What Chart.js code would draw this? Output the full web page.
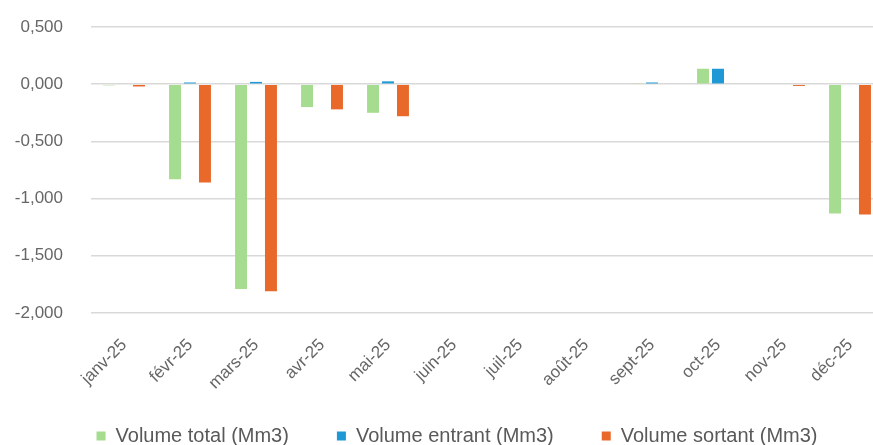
<!DOCTYPE html>
<html>
<head>
<meta charset="utf-8">
<script src="https://cdn.jsdelivr.net/npm/chart.js@4"></script>
<style>
html,body{margin:0;padding:0;overflow:hidden;background:#fff;}
#wrap{position:absolute;left:0;top:0;width:929px;height:456px;}
</style>
</head>
<body>
<div id="wrap"><canvas id="c" width="929" height="456"></canvas></div>
<script>
const categories = ['janv-25','févr-25','mars-25','avr-25','mai-25','juin-25','juil-25','août-25','sept-25','oct-25','nov-25','déc-25'];
const volumeTotal   = [-0.01, -0.83, -1.79, -0.20, -0.25, 0, 0, 0, 0.005, 0.135, 0, -1.13];
const volumeEntrant = [0, 0.015, 0.02, 0, 0.025, 0, 0, 0, 0.015, 0.135, 0, 0];
const volumeSortant = [-0.02, -0.86, -1.81, -0.22, -0.28, 0, 0, 0, 0, 0, -0.015, -1.14];
const yTicks = [0.5, 0, -0.5, -1, -1.5, -2];

const fmt = v => v.toFixed(3).replace('.', ',');
const FONT = "'Liberation Sans', Arial, sans-serif";
const noClip = s => { s._computeLabelArea = () => undefined; };

new Chart(document.getElementById('c'), {
  type: 'bar',
  data: {
    labels: categories,
    datasets: [
      {label: 'Volume total (Mm3)', data: volumeTotal, backgroundColor: '#a6dc8f'},
      {label: 'Volume entrant (Mm3)', data: volumeEntrant, backgroundColor: '#1f98d6'},
      {label: 'Volume sortant (Mm3)', data: volumeSortant, backgroundColor: '#e8692a'}
    ]
  },
  options: {
    responsive: false,
    animation: false,
    devicePixelRatio: 1,
    datasets: {bar: {categoryPercentage: 0.68, barPercentage: 0.8}},
    layout: {padding: {left: 31, right: 46, top: 27, bottom: 0}},
    plugins: {
      tooltip: {enabled: false},
      legend: {
        position: 'bottom',
        labels: {
          font: {family: FONT, size: 20},
          color: '#595959',
          boxWidth: 9, boxHeight: 9,
          padding: 48
        }
      }
    },
    scales: {
      x: {
        grid: {display: false, drawTicks: false},
        border: {display: false},
        ticks: {
          font: {family: FONT, size: 17},
          color: '#666',
          minRotation: 45, maxRotation: 45,
          padding: 22
        },
        afterFit: s => { s.height = 65; s.paddingLeft = 0; s.paddingRight = 0; noClip(s); }
      },
      y: {
        min: -2, max: 0.5,
        afterBuildTicks: s => { s.ticks = yTicks.map(v => ({value: v})); },
        grid: {color: '#d9d9d9', lineWidth: 1.5, drawTicks: false},
        border: {display: false},
        ticks: {
          font: {family: FONT, size: 17},
          color: '#666',
          padding: 28,
          callback: v => fmt(v)
        },
        afterFit: s => { s.width = 60; s.paddingTop = 0; s.paddingBottom = 0; noClip(s); }
      }
    }
  }
});
</script>
</body>
</html>
